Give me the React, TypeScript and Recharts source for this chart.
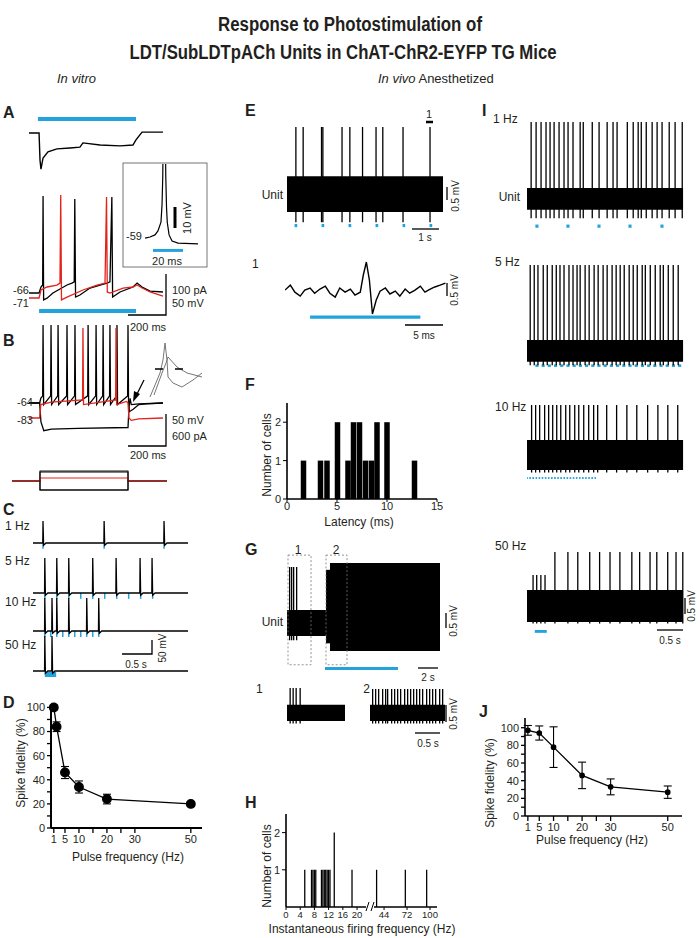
import React from 'react';
import {
  ComposedChart,
  Line,
  Bar,
  XAxis,
  YAxis,
  ReferenceArea,
  ErrorBar,
} from 'recharts';

const BLUE = '#22a3dc';
const RED = '#e2231a';
const INK = '#231f20';
const FONT = '"Liberation Sans", Arial, Helvetica, sans-serif';

type Pt = { t: number; v: number };
type Box = { x1: number; x2: number; y1: number; y2: number };
type Spk = { t: number; lo: number; hi: number };

// ---------- A: in vitro photocurrent / spikes (ms, pA, mV) ----------
const aCurrent: Pt[] = [
  { t: -58, v: 0 }, { t: -5, v: 0 }, { t: 0, v: -63 }, { t: 5, v: -84 }, { t: 16, v: -58 },
  { t: 42, v: -44 }, { t: 89, v: -37 }, { t: 158, v: -35 }, { t: 210, v: -33 }, { t: 226, v: -23 },
  { t: 316, v: -28 }, { t: 421, v: -30 }, { t: 489, v: -28 }, { t: 505, v: -16 }, { t: 537, v: 2 },
  { t: 647, v: 2 },
];
const aBlack: Pt[] = [
  { t: -58, v: -66 }, { t: -5, v: -66 }, { t: 5, v: -59 }, { t: 14, v: -56.7 }, { t: 16, v: 46.8 },
  { t: 19, v: -74 }, { t: 37, v: -72 }, { t: 68, v: -66 }, { t: 142, v: -56.7 }, { t: 168, v: -54.4 },
  { t: 180, v: -53 }, { t: 183, v: 43.3 }, { t: 187, v: -70.7 }, { t: 210, v: -68.3 }, { t: 263, v: -60.2 },
  { t: 316, v: -56.7 }, { t: 353, v: -54.4 }, { t: 368, v: -53 }, { t: 378, v: 45.6 }, { t: 382, v: -70.7 },
  { t: 421, v: -64.8 }, { t: 489, v: -59 }, { t: 511, v: -54.4 }, { t: 537, v: -59 }, { t: 579, v: -63.7 },
  { t: 647, v: -64.8 },
];
const aRed: Pt[] = [
  { t: -58, v: -71.8 }, { t: -5, v: -71.8 }, { t: 5, v: -62.5 }, { t: 37, v: -59 }, { t: 89, v: -56.7 },
  { t: 105, v: -54.4 }, { t: 109, v: 48 }, { t: 113, v: -74 }, { t: 142, v: -70.7 }, { t: 226, v: -62.5 },
  { t: 300, v: -56.7 }, { t: 342, v: -54.4 }, { t: 350, v: 45.6 }, { t: 354, v: -64.8 }, { t: 368, v: -66 },
  { t: 437, v: -60.2 }, { t: 489, v: -59 }, { t: 511, v: -56.7 }, { t: 537, v: -60.2 }, { t: 579, v: -64.8 },
  { t: 647, v: -69.5 },
];
const aInset: Pt[] = [
  { t: -5.3, v: -59.5 }, { t: -2, v: -59 }, { t: 1.3, v: -58 }, { t: 3.3, v: -56.1 }, { t: 5.3, v: -51.9 },
  { t: 6, v: -43.8 }, { t: 6.5, v: -30 }, { t: 6.9, v: 0 }, { t: 8.1, v: 0 }, { t: 8.5, v: -30 },
  { t: 9, v: -45 }, { t: 9.5, v: -52 }, { t: 10.7, v: -58 }, { t: 12.7, v: -60.9 }, { t: 16.7, v: -61.9 },
  { t: 30, v: -62.3 },
];

// ---------- B: current steps ----------
const bBlackSpikes = [16, 58, 95, 142, 184, 253, 295, 332, 368, 405, 463];
const bRedSpikes = [226, 400];
const bHyper: Pt[] = [
  { t: -58, v: -64 }, { t: -2, v: -64 }, { t: 5, v: -88 }, { t: 20, v: -99 }, { t: 60, v: -97 },
  { t: 200, v: -96 }, { t: 463, v: -95 }, { t: 468, v: -70 }, { t: 474, v: -58 }, { t: 480, v: -66 },
  { t: 520, v: -65 }, { t: 647, v: -64 },
];
const bInset1: Pt[] = [
  { t: 0.2, v: -3.5 }, { t: 1.2, v: 8.5 }, { t: 1.5, v: 15 }, { t: 1.7, v: 23.5 }, { t: 1.9, v: 15 },
  { t: 2.0, v: 6.5 }, { t: 2.5, v: 3.5 }, { t: 3.4, v: 1.5 }, { t: 4.5, v: 5 }, { t: 5.4, v: 8.5 },
];
const bInset2: Pt[] = [
  { t: 0.6, v: -2.5 }, { t: 1.4, v: 8.5 }, { t: 1.8, v: 13.5 }, { t: 2.0, v: 16.5 }, { t: 2.9, v: 11.5 },
  { t: 3.9, v: 8.5 }, { t: 5.4, v: 6.5 },
];
const bSteps = [150, 50, -150]; // pA
const bStimEnd = 463;

// ---------- C: pulse trains (s) ----------
const c1Spikes = [0, 1.02, 2.02];
const c1Pulses = [0, 1.02, 2.02];
const c5Spikes = [0.03, 0.23, 0.43, 0.83, 1.22, 1.62, 1.82];
const c5Pulses = [0.03, 0.23, 0.43, 0.63, 0.83, 1.03, 1.23, 1.43, 1.63, 1.83];
const c10Spikes = [0.03, 0.15, 0.23, 0.43, 0.73, 0.93];
const c10Pulses = [0.03, 0.13, 0.23, 0.33, 0.43, 0.53, 0.63, 0.73, 0.83, 0.93];
const c50Spikes = [0.03, 0.15];

// ---------- D / J: spike fidelity ----------
const dFreq = [1, 2, 5, 10, 20, 50];
const dFid = [100, 84, 46, 34, 24, 20];
const dErr = [2, 4, 5, 5, 4, 2];
const jFreq = [1, 5, 10, 20, 30, 50];
const jFid = [97, 94, 78, 46, 33, 27];
const jErr = [5.5, 8, 23, 15, 9, 7];
const fidTicks = [1, 5, 10, 15, 20, 25, 30, 50];
const fidLabels = [1, 5, 10, 20, 30, 50];

// ---------- E: unit, 1 Hz (s, mV) ----------
const eSpikes = [0.33, 0.6, 1.28, 1.33, 2.04, 2.33, 2.8, 3.3, 3.55, 4.3, 5.3];
const ePulses = [0.33, 1.33, 2.33, 3.33, 4.33, 5.33];
const eWave: Pt[] = [
  { t: 0, v: 0 }, { t: 0.7, v: 0.19 }, { t: 1.3, v: -0.08 }, { t: 2.0, v: -0.23 }, { t: 2.6, v: 0 },
  { t: 3.3, v: 0.08 }, { t: 3.9, v: -0.12 }, { t: 4.6, v: 0.04 }, { t: 5.3, v: 0.15 }, { t: 5.9, v: -0.12 },
  { t: 6.6, v: -0.27 }, { t: 7.2, v: 0.08 }, { t: 7.9, v: -0.08 }, { t: 8.6, v: 0.04 }, { t: 9.2, v: -0.19 },
  { t: 9.9, v: -0.08 }, { t: 10.3, v: 0.58 }, { t: 10.7, v: 1.08 }, { t: 11.1, v: 0.38 }, { t: 11.5, v: -0.92 },
  { t: 12.0, v: -0.38 }, { t: 12.5, v: -0.04 }, { t: 13.2, v: 0.08 }, { t: 13.8, v: -0.15 }, { t: 14.5, v: -0.04 },
  { t: 15.1, v: -0.23 }, { t: 15.8, v: 0.04 }, { t: 16.4, v: -0.12 }, { t: 17.1, v: 0 }, { t: 17.8, v: 0.15 },
  { t: 18.4, v: -0.08 }, { t: 19.1, v: 0.04 }, { t: 19.7, v: 0.12 }, { t: 20.4, v: 0.19 }, { t: 21.1, v: 0.27 },
];

// ---------- F: latency histogram ----------
const fLatency = [1.65, 3.35, 4.0, 5.05, 6.1, 6.65, 7.25, 7.85, 8.45, 9.0, 10.0, 12.75];
const fCount = [1, 1, 1, 2, 1, 2, 2, 1, 1, 2, 2, 1];

// ---------- G: sustained firing (s, mV) ----------
const gEarlySpikes = [0.3, 0.5, 0.7, 1.0];
const g1Spikes = [0.06, 0.12, 0.18, 0.26];
const g2Spikes = [
  0.06, 0.12, 0.18, 0.26, 0.32, 0.36, 0.44, 0.5, 0.56, 0.62, 0.7, 0.76, 0.82, 0.88, 0.94, 1.0, 1.06,
  1.14, 1.2, 1.26, 1.32, 1.4, 1.46,
];

// ---------- H: instantaneous frequency histogram ----------
const hFreq = [5.3, 7.2, 7.6, 8.0, 8.4, 10.0, 10.4, 10.8, 11.2, 11.6, 12.0, 12.4, 13.6, 18.6, 35, 70, 96];
const hCount = [1, 1, 1, 1, 1, 1, 1, 1, 1, 1, 1, 1, 2, 1, 1, 1, 1];
const hTickLabels = [0, 4, 8, 12, 16, 20, 44, 72, 100];

// ---------- I: in vivo trains (s, mV) ----------
const i1Spikes = [
  0.13, 0.29, 0.45, 0.61, 0.74, 0.87, 1.03, 1.19, 1.32, 1.48, 1.71, 1.81, 2.1, 2.32, 2.58, 2.77, 2.9,
  3.23, 3.42, 3.58, 3.68, 3.84, 4.03, 4.19, 4.35, 4.58, 4.77, 5.0,
];
const i1Pulses = [0.32, 1.32, 2.32, 3.32, 4.35];
const i5Spikes = [
  0.1, 0.23, 0.35, 0.52, 0.65, 0.81, 0.94, 1.06, 1.19, 1.35, 1.48, 1.61, 1.71, 1.87, 2.0, 2.16, 2.29,
  2.45, 2.58, 2.74, 2.87, 3.0, 3.13, 3.29, 3.42, 3.55, 3.71, 3.81, 3.97, 4.13, 4.29, 4.39, 4.55, 4.71, 4.87,
];
const i5Pulses = [
  0.32, 0.52, 0.72, 0.92, 1.12, 1.32, 1.52, 1.72, 1.92, 2.12, 2.32, 2.52, 2.72, 2.92, 3.12, 3.32, 3.52,
  3.72, 3.92, 4.12, 4.32, 4.52, 4.72, 4.92,
];
const i10Spikes = [
  0.16, 0.29, 0.42, 0.58, 0.71, 0.84, 0.97, 1.1, 1.26, 1.39, 1.55, 1.68, 1.84, 2.0, 2.16, 2.29, 2.58,
  2.9, 3.23, 3.55, 3.9, 4.23, 4.55, 4.87,
];
const i10Pulses = [
  0.0, 0.1, 0.2, 0.3, 0.4, 0.5, 0.6, 0.7, 0.8, 0.9, 1.0, 1.1, 1.2, 1.3, 1.4, 1.5, 1.6, 1.7, 1.8, 1.9,
  2.0, 2.1, 2.2,
];
const i50Short = [0.12, 0.19, 0.27, 0.35];
const i50Tall = [0.54, 0.79, 0.98, 1.21, 1.4, 1.6, 1.79, 2.02, 2.17, 2.37, 2.5, 2.71, 2.87, 3.0];

// ---------- helpers ----------
function spikeTrain(
  times: number[],
  o: { peak: number; thr: number; ahp: number; rise: number; fall: number; rec?: number },
  pre: Pt[],
  post: Pt[]
): Pt[] {
  const pts: Pt[] = [...pre];
  times.forEach((t) => {
    pts.push({ t: t - o.rise, v: o.thr }, { t, v: o.peak }, { t: t + o.fall, v: o.ahp });
    if (o.rec) pts.push({ t: t + o.rec, v: o.thr });
  });
  return [...pts, ...post];
}
const spk = (times: number[], lo: number, hi: number): Spk[] => times.map((t) => ({ t, lo, hi }));
const marks = (times: number[], w: number, y1: number, y2: number): Box[] =>
  times.map((t) => ({ x1: t - w / 2, x2: t + w / 2, y1, y2 }));
const hPos = (f: number) => (f <= 22 ? f : 27.6 + (f - 44) * 0.231);

interface TraceProps {
  left: number;
  top: number;
  width: number;
  height: number;
  xd: [number, number];
  yd: [number, number];
  fills?: Box[];
  spikes?: Spk[];
  lines?: { pts: Pt[]; color: string; w?: number }[];
  pulses?: Box[];
  boxes?: Box[];
  spikeW?: number;
}

const Trace: React.FC<TraceProps> = ({
  left, top, width, height, xd, yd, fills = [], spikes = [], lines = [], pulses = [], boxes = [], spikeW = 1.3,
}) => (
  <div style={{ position: 'absolute', left, top }}>
    <ComposedChart
      width={width}
      height={height}
      data={spikes.map((s) => ({ t: s.t, r: [s.lo, s.hi] }))}
      margin={{ top: 0, right: 0, bottom: 0, left: 0 }}
    >
      <XAxis type="number" dataKey="t" domain={xd} hide allowDataOverflow />
      <YAxis type="number" domain={yd} hide allowDataOverflow />
      {fills.map((b, i) => (
        <ReferenceArea key={'f' + i} x1={b.x1} x2={b.x2} y1={b.y1} y2={b.y2} fill="#000" fillOpacity={1} stroke="none" ifOverflow="visible" />
      ))}
      {spikes.length > 0 && <Bar dataKey="r" fill="#000" barSize={spikeW} isAnimationActive={false} />}
      {lines.map((l, i) => (
        <Line key={'l' + i} data={l.pts} dataKey="v" type="linear" stroke={l.color} strokeWidth={l.w ?? 1.2} dot={false} isAnimationActive={false} />
      ))}
      {pulses.map((b, i) => (
        <ReferenceArea key={'p' + i} x1={b.x1} x2={b.x2} y1={b.y1} y2={b.y2} fill={BLUE} fillOpacity={1} stroke="none" ifOverflow="visible" />
      ))}
      {boxes.map((b, i) => (
        <ReferenceArea key={'b' + i} x1={b.x1} x2={b.x2} y1={b.y1} y2={b.y2} fill="none" stroke="#777" strokeDasharray="2 2" strokeWidth={0.8} ifOverflow="visible" />
      ))}
    </ComposedChart>
  </div>
);

const tickStyle = { fontSize: 11, fill: INK, fontFamily: FONT };
const axisStroke = { stroke: '#000', strokeWidth: 1.6 };

const FidelityChart: React.FC<{
  left: number; top: number; freq: number[]; fid: number[]; err: number[]; plotW: number; plotH: number;
  yMax: number; xMax: number; dotR: number; axisW: number;
}> = ({ left, top, freq, fid, err, plotW, plotH, yMax, xMax, dotR, axisW }) => {
  const data = freq.map((f, i) => ({ f, v: fid[i], e: err[i] }));
  return (
    <div style={{ position: 'absolute', left, top }}>
      <ComposedChart width={35 + plotW + 10} height={5 + plotH + 25} data={data} margin={{ top: 5, right: 10, bottom: 0, left: 0 }}>
        <XAxis
          type="number" dataKey="f" domain={[0, xMax]} ticks={fidTicks} interval={0}
          tickFormatter={(v: number) => (fidLabels.includes(v) ? String(v) : '')}
          height={25} axisLine={{ stroke: '#000', strokeWidth: axisW }} tickLine={{ stroke: '#000', strokeWidth: 1.3 }}
          tickSize={5} tickMargin={2} tick={tickStyle}
        />
        <YAxis
          type="number" domain={[0, yMax]} ticks={[0, 10, 20, 30, 40, 50, 60, 70, 80, 90, 100]} interval={0}
          tickFormatter={(v: number) => (v % 20 === 0 ? String(v) : '')}
          width={35} axisLine={{ stroke: '#000', strokeWidth: axisW }} tickLine={{ stroke: '#000', strokeWidth: 1.3 }}
          tickSize={4} tickMargin={2} tick={tickStyle}
        />
        <Line dataKey="v" type="linear" stroke="#000" strokeWidth={1.3} dot={{ r: dotR, fill: '#000', stroke: '#000' }} isAnimationActive={false}>
          <ErrorBar dataKey="e" direction="y" width={4} stroke="#000" strokeWidth={1.1} />
        </Line>
      </ComposedChart>
    </div>
  );
};

const T: React.FC<{
  x: number; y: number; s?: number; a?: 'start' | 'middle' | 'end'; rot?: boolean; b?: boolean; i?: boolean;
  len?: number; children: React.ReactNode;
}> = ({ x, y, s = 12, a = 'start', rot, b, i, len, children }) => (
  <text
    x={rot ? 0 : x}
    y={rot ? 0 : y}
    transform={rot ? `translate(${x},${y}) rotate(-90)` : undefined}
    fontSize={s}
    textAnchor={a}
    fontWeight={b ? 'bold' : 'normal'}
    fontStyle={i ? 'italic' : 'normal'}
    fill={INK}
    textLength={len}
    lengthAdjust={len ? 'spacingAndGlyphs' : undefined}
  >
    {children}
  </text>
);

const SB: React.FC<{ d: string; w?: number }> = ({ d, w = 1.3 }) => <path d={d} stroke="#000" strokeWidth={w} fill="none" />;

export default function App() {
  const bBlack = spikeTrain(
    bBlackSpikes, { peak: 34.7, thr: -55, ahp: -66, rise: 2, fall: 3 },
    [{ t: -58, v: -64 }, { t: -2, v: -64 }, { t: 4, v: -58 }],
    [{ t: 470, v: -75 }, { t: 490, v: -72 }, { t: 520, v: -66 }, { t: 560, v: -65 }, { t: 647, v: -64 }]
  );
  const bRed = spikeTrain(
    bRedSpikes, { peak: 31, thr: -60, ahp: -66, rise: 2, fall: 3 },
    [{ t: -58, v: -83 }, { t: -2, v: -83 }, { t: 4, v: -66 }, { t: 60, v: -63 }],
    [{ t: 455, v: -62 }, { t: 463, v: -64 }, { t: 468, v: -83 }, { t: 480, v: -86 }, { t: 520, v: -84 }, { t: 647, v: -83 }]
  );
  const stepLine = (amp: number): Pt[] => [
    { t: -147, v: 0 }, { t: 0, v: 0 }, { t: 0.1, v: amp }, { t: bStimEnd, v: amp }, { t: bStimEnd + 0.1, v: 0 }, { t: 668, v: 0 },
  ];
  const cRow = (times: number[], peak: number) =>
    spikeTrain(times, { peak, thr: -60, ahp: -68, rise: 0.004, fall: 0.01, rec: 0.05 }, [{ t: -0.167, v: -60 }], [{ t: 2.42, v: -60 }]);
  const hData = hFreq.map((f, i) => ({ p: hPos(f), n: hCount[i] }));
  const hTickPos = hTickLabels.map(hPos);
  const fData = fLatency.map((l, i) => ({ l, n: fCount[i] }));

  return (
    <div style={{ position: 'absolute', left: 0, top: 0, width: 700, height: 938, background: '#fff', overflow: 'hidden', fontFamily: FONT }}>
      {/* A */}
      <Trace left={25} top={112} width={145} height={65} xd={[-79, 684]} yd={[-102.3, 48.8]}
        lines={[{ pts: aCurrent, color: '#000', w: 1.4 }]}
        pulses={[{ x1: -11, x2: 505, y1: 27.9, y2: 37.2 }]} />
      <Trace left={138} top={164} width={62} height={90} xd={[-10, 31.3]} yd={[-67.1, -24.2]}
        lines={[{ pts: aInset, color: '#000', w: 1.2 }]}
        pulses={[{ x1: 0, x2: 20, y1: -66.1, y2: -64.7 }]} />
      <Trace left={25} top={190} width={145} height={127} xd={[-79, 684]} yd={[-93.9, 53.8]}
        lines={[{ pts: aBlack, color: '#000', w: 1.3 }, { pts: aRed, color: RED, w: 1.3 }]}
        pulses={[{ x1: -5, x2: 505, y1: -89.3, y2: -84.6 }]} />

      {/* B */}
      <Trace left={25} top={320} width={145} height={112} xd={[-79, 684]} yd={[-100.7, 41]}
        lines={[{ pts: bHyper, color: '#000', w: 1.3 }, { pts: bBlack, color: '#000', w: 1.3 }, { pts: bRed, color: RED, w: 1.3 }]} />
      <Trace left={148} top={338} width={58} height={64} xd={[0, 5.8]} yd={[-6, 26]}
        lines={[{ pts: bInset1, color: '#666', w: 0.9 }, { pts: bInset2, color: '#666', w: 0.9 }]} />
      <Trace left={12} top={465} width={155} height={32} xd={[-147, 668]} yd={[-267, 267]}
        lines={[
          { pts: stepLine(bSteps[0]), color: '#000', w: 1.1 },
          { pts: stepLine(bSteps[2]), color: '#000', w: 1.1 },
          { pts: stepLine(bSteps[1]), color: RED, w: 1.1 },
        ]} />

      {/* C */}
      <Trace left={33} top={515} width={155} height={40} xd={[-0.167, 2.42]} yd={[-102.9, 40]}
        lines={[{ pts: cRow(c1Spikes, 18.6), color: '#000', w: 1.3 }]} pulses={marks(c1Pulses, 0.025, -81, -60)} />
      <Trace left={33} top={550} width={155} height={55} xd={[-0.167, 2.42]} yd={[-102.9, 93.6]}
        lines={[{ pts: cRow(c5Spikes, 65), color: '#000', w: 1.3 }]} pulses={marks(c5Pulses, 0.025, -81, -60)} />
      <Trace left={33} top={595} width={155} height={45} xd={[-0.167, 2.42]} yd={[-92.1, 68.6]}
        lines={[{ pts: cRow(c10Spikes, 58), color: '#000', w: 1.3 }]} pulses={marks(c10Pulses, 0.025, -81, -60)} />
      <Trace left={33} top={633} width={155} height={48} xd={[-0.167, 2.42]} yd={[-95.7, 75.7]}
        lines={[{ pts: cRow(c50Spikes, 65), color: '#000', w: 1.3 }]} pulses={[{ x1: 0.03, x2: 0.22, y1: -81.4, y2: -63.6 }]} />

      {/* D */}
      <FidelityChart left={16} top={700} freq={dFreq} fid={dFid} err={dErr} plotW={151} plotH={123} yMax={102} xMax={54} dotR={4.3} axisW={2} />

      {/* E */}
      <Trace left={287} top={120} width={156} height={110} xd={[0, 5.78]} yd={[-1.38, 2.85]}
        fills={[{ x1: 0, x2: 5.78, y1: -0.69, y2: 0.69 }]} spikes={spk(eSpikes, -1.08, 2.58)}
        pulses={marks(ePulses, 0.1, -1.27, -1.15)} />
      <Trace left={285} top={255} width={165} height={72} xd={[0, 21.7]} yd={[-1.42, 1.35]}
        lines={[{ pts: eWave, color: '#000', w: 1.4 }]} pulses={[{ x1: 3.3, x2: 17.8, y1: -1.1, y2: -0.98 }]} />

      {/* F */}
      <div style={{ position: 'absolute', left: 257, top: 398 }}>
        <ComposedChart width={188} height={126} data={fData} margin={{ top: 5, right: 8, bottom: 0, left: 0 }}>
          <XAxis type="number" dataKey="l" domain={[0, 15]} ticks={[0, 5, 10, 15]} interval={0} height={25}
            axisLine={axisStroke} tickLine={{ stroke: '#000' }} tickSize={3} tickMargin={0} tick={{ ...tickStyle, fontSize: 11 }} />
          <YAxis type="number" domain={[0, 2.5]} ticks={[0, 1, 2]} interval={0} width={30}
            axisLine={axisStroke} tickLine={{ stroke: '#000' }} tickSize={4} tickMargin={2} tick={{ ...tickStyle, fontSize: 11 }} />
          <Bar dataKey="n" fill="#000" barSize={5.5} isAnimationActive={false} />
        </ComposedChart>
      </div>

      {/* G */}
      <Trace left={287} top={550} width={156} height={125} xd={[0, 15.6]} yd={[-1.69, 2.22]}
        fills={[
          { x1: 0, x2: 3.9, y1: -0.47, y2: 0.34 },
          { x1: 3.9, x2: 4.3, y1: -0.7, y2: 1.6 },
          { x1: 4.3, x2: 15.3, y1: -0.94, y2: 1.81 },
        ]}
        spikes={spk(gEarlySpikes, -0.6, 1.69)}
        pulses={[{ x1: 3.8, x2: 11.1, y1: -1.53, y2: -1.44 }]}
        boxes={[{ x1: 0.1, x2: 2.4, y1: -1.37, y2: 2.06 }, { x1: 3.9, x2: 6.0, y1: -1.37, y2: 2.06 }]} />
      <Trace left={287} top={680} width={60} height={47} xd={[0, 1.2]} yd={[-0.47, 1.1]}
        fills={[{ x1: 0, x2: 1.16, y1: -0.27, y2: 0.27 }]} spikes={spk(g1Spikes, -0.35, 0.83)} />
      <Trace left={370} top={680} width={77} height={47} xd={[0, 1.54]} yd={[-0.47, 1.1]}
        fills={[{ x1: 0, x2: 1.5, y1: -0.27, y2: 0.27 }]} spikes={spk(g2Spikes, -0.35, 0.8)} />

      {/* H */}
      <div style={{ position: 'absolute', left: 256, top: 809 }}>
        <ComposedChart width={191} height={123} data={hData} margin={{ top: 5, right: 10, bottom: 0, left: 0 }}>
          <XAxis type="number" dataKey="p" domain={[0, 42.5]} ticks={hTickPos} interval={0} height={25}
            tickFormatter={(p: number) => String(hTickLabels[hTickPos.indexOf(p)] ?? '')}
            axisLine={axisStroke} tickLine={{ stroke: '#000' }} tickSize={3} tickMargin={1} tick={{ ...tickStyle, fontSize: 9.5 }} />
          <YAxis type="number" domain={[0, 2.5]} ticks={[1, 2]} interval={0} width={30}
            axisLine={axisStroke} tickLine={{ stroke: '#000' }} tickSize={4} tickMargin={2} tick={{ ...tickStyle, fontSize: 11 }} />
          <Bar dataKey="n" fill="#000" barSize={2.5} isAnimationActive={false} />
        </ComposedChart>
      </div>

      {/* I */}
      <Trace left={527} top={115} width={157} height={115} xd={[0, 5.06]} yd={[-0.97, 2.62]}
        fills={[{ x1: 0, x2: 5.03, y1: -0.34, y2: 0.34 }]} spikes={spk(i1Spikes, -0.6, 2.4)}
        pulses={marks(i1Pulses, 0.1, -0.9, -0.8)} />
      <Trace left={527} top={258} width={157} height={115} xd={[0, 5.06]} yd={[-0.69, 2.91]}
        fills={[{ x1: 0, x2: 5.03, y1: -0.34, y2: 0.34 }]} spikes={spk(i5Spikes, -0.45, 2.69)}
        pulses={marks(i5Pulses, 0.1, -0.5, -0.42)} />
      <Trace left={527} top={398} width={157} height={88} xd={[0, 5.06]} yd={[-0.97, 1.78]}
        fills={[{ x1: 0, x2: 5.03, y1: -0.47, y2: 0.47 }]} spikes={spk(i10Spikes, -0.55, 1.56)}
        pulses={marks(i10Pulses, 0.05, -0.75, -0.69)} />
      <Trace left={527} top={545} width={157} height={92} xd={[0, 3.02]} yd={[-0.97, 1.91]}
        fills={[{ x1: 0, x2: 3.0, y1: -0.5, y2: 0.5 }]}
        spikes={[...spk(i50Short, -0.55, 0.97), ...spk(i50Tall, -0.55, 1.69)]}
        pulses={[{ x1: 0.15, x2: 0.38, y1: -0.84, y2: -0.75 }]} />

      {/* J */}
      <FidelityChart left={490} top={713} freq={jFreq} fid={jFid} err={jErr} plotW={157} plotH={98} yMax={111} xMax={55} dotR={2.2} axisW={1.6} />

      {/* text and scale bars */}
      <svg width={700} height={938} style={{ position: 'absolute', left: 0, top: 0, pointerEvents: 'none' }} fontFamily={FONT}>
        <T x={350} y={31} s={20} a="middle" b len={264}>Response to Photostimulation of</T>
        <T x={343} y={59} s={20} a="middle" b len={427}>LDT/SubLDTpACh Units in ChAT-ChR2-EYFP TG Mice</T>
        <T x={57} y={83} s={13} i>In vitro</T>
        <text x={378} y={83} fontSize={13} fill={INK}>
          <tspan fontStyle="italic">In vivo</tspan> Anesthetized
        </text>

        <T x={3} y={118} s={16} b>A</T>
        <T x={3} y={346} s={16} b>B</T>
        <T x={3} y={515} s={16} b>C</T>
        <T x={3} y={708} s={16} b>D</T>
        <T x={245} y={116} s={16} b>E</T>
        <T x={245} y={390} s={16} b>F</T>
        <T x={245} y={555} s={16} b>G</T>
        <T x={245} y={808} s={16} b>H</T>
        <T x={482} y={116} s={16} b>I</T>
        <T x={479} y={717} s={16} b>J</T>

        {/* A annotations */}
        <rect x={123} y={163} width={84} height={104} fill="none" stroke="#666" strokeWidth={0.9} />
        <T x={142} y={240} s={11} a="end">-59</T>
        <T x={167} y={265} s={11} a="middle">20 ms</T>
        <SB d="M175 207 V228" w={3} />
        <T x={191} y={218} s={11} a="middle" rot>10 mV</T>
        <T x={29} y={294} s={11} a="end">-66</T>
        <T x={29} y={307} s={11} a="end">-71</T>
        <SB d="M166 274 V315 H128" />
        <T x={172} y={294} s={11}>100 pA</T>
        <T x={172} y={307} s={11}>50 mV</T>
        <T x={130} y={331} s={11}>200 ms</T>

        {/* B annotations */}
        <T x={33} y={406} s={11} a="end">-64</T>
        <T x={33} y={424} s={11} a="end">-83</T>
        <SB d="M166 414 V446 H128" />
        <T x={172} y={424} s={11}>50 mV</T>
        <T x={172} y={440} s={11}>600 pA</T>
        <T x={130} y={459} s={11}>200 ms</T>
        <SB d="M155 369 H163 M175 369 H183" w={1.6} />
        <SB d="M144 380 L136 396" w={1.3} />
        <path d="M133 402 L134 391 L140 394 Z" fill="#000" />
        <rect x={40} y={471} width={88} height={19} fill="none" stroke="#000" strokeWidth={0.9} />

        {/* C annotations */}
        <T x={5} y={530} s={12}>1 Hz</T>
        <T x={5} y={565} s={12}>5 Hz</T>
        <T x={5} y={606} s={12}>10 Hz</T>
        <T x={5} y={649} s={12}>50 Hz</T>
        <SB d="M122 654 H152 V640" />
        <T x={136} y={668} s={10} a="middle">0.5 s</T>
        <T x={166} y={648} s={10} a="middle" rot>50 mV</T>

        {/* D labels */}
        <T x={25} y={763} s={12} a="middle" rot>Spike fidelity (%)</T>
        <T x={128} y={861} s={12} a="middle">Pulse frequency (Hz)</T>

        {/* E annotations */}
        <T x={283} y={199} s={12} a="end">Unit</T>
        <T x={429} y={118} s={11} a="middle">1</T>
        <SB d="M426 122 H433" w={2.5} />
        <SB d="M447 187 V200" />
        <T x={459} y={196} s={10} a="middle" rot>0.5 mV</T>
        <SB d="M412 229 H439" />
        <T x={425} y={241} s={10} a="middle">1 s</T>
        <T x={252} y={268} s={12}>1</T>
        <SB d="M447 283 V296" />
        <T x={458} y={290} s={10} a="middle" rot>0.5 mV</T>
        <SB d="M405 325 H443" />
        <T x={424} y={339} s={10} a="middle">5 ms</T>

        {/* F labels */}
        <T x={271} y={455} s={12} a="middle" rot>Number of cells</T>
        <T x={359} y={526} s={12} a="middle">Latency (ms)</T>

        {/* G annotations */}
        <T x={298} y={554} s={12} a="middle">1</T>
        <T x={336} y={554} s={12} a="middle">2</T>
        <T x={283} y={626} s={12} a="end">Unit</T>
        <SB d="M446 613 V628" />
        <T x={457} y={621} s={10} a="middle" rot>0.5 mV</T>
        <SB d="M418 668 H438" />
        <T x={428} y={681} s={10} a="middle">2 s</T>
        <T x={256} y={693} s={12}>1</T>
        <T x={370} y={693} s={12} a="end">2</T>
        <SB d="M446 705 V722" />
        <T x={457} y={714} s={10} a="middle" rot>0.5 mV</T>
        <SB d="M415 733 H440" />
        <T x={428} y={747} s={10} a="middle">0.5 s</T>

        {/* H labels */}
        <rect x={366} y={903} width={8} height={8} fill="#fff" />
        <SB d="M366 911 L369 902 M371 911 L374 902" w={1} />
        <T x={271} y={866} s={12} a="middle" rot>Number of cells</T>
        <T x={362} y={933} s={12} a="middle">Instantaneous firing frequency (Hz)</T>

        {/* I annotations */}
        <T x={493} y={123} s={12}>1 Hz</T>
        <T x={520} y={201} s={12} a="end">Unit</T>
        <T x={495} y={266} s={12}>5 Hz</T>
        <T x={495} y={411} s={12}>10 Hz</T>
        <T x={495} y={550} s={12}>50 Hz</T>
        <SB d="M685 598 V614" />
        <T x={695} y={606} s={10} a="middle" rot>0.5 mV</T>
        <SB d="M657 630 H683" />
        <T x={670} y={644} s={10} a="middle">0.5 s</T>

        {/* J labels */}
        <T x={494} y={783} s={12} a="middle" rot>Spike fidelity (%)</T>
        <T x={592} y={844} s={12} a="middle">Pulse frequency (Hz)</T>
      </svg>
    </div>
  );
}
